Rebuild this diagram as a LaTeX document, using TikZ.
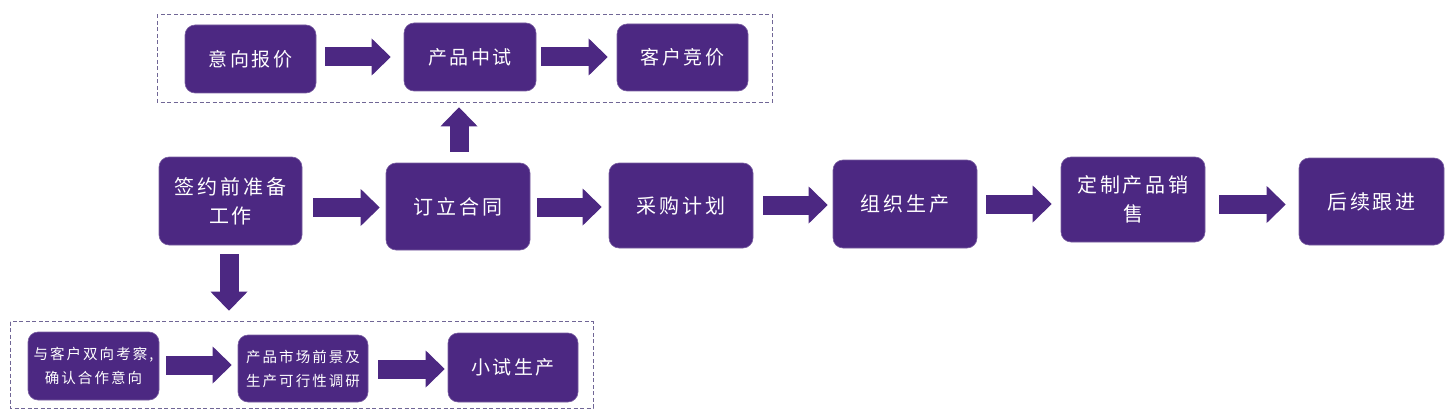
\documentclass[tikz,border=0pt]{standalone}
\usepackage{fontspec}
\setmainfont{Noto Sans CJK SC}
\newfontfamily\cjkfont[LetterSpace=14]{Noto Sans CJK SC}
\usetikzlibrary{arrows.meta}
\definecolor{pp}{RGB}{76,40,130}
\definecolor{dashcol}{RGB}{112,102,150}
\begin{document}
\begin{tikzpicture}[x=1pt,y=-1pt,
  box/.style={fill=pp, draw=pp!75!white, line width=0.6pt, rounded corners=10pt,
    text=white, align=center, inner sep=0pt},
  bigtxt/.style={font=\cjkfont\fontsize{20}{29}\selectfont},
  midtxt/.style={font=\cjkfont\fontsize{19}{24}\selectfont},
  smalltxt/.style={font=\cjkfont\fontsize{14.5}{24}\selectfont},
  blk/.style={draw=pp, line width=19pt,
    -{Triangle[length=19pt,width=37pt,line width=0pt]}},
  group/.style={draw=dashcol, line width=0.8pt, dash pattern=on 4pt off 2.5pt}
]
\useasboundingbox (0,0) rectangle (1455,417);

% dashed groups
\draw[group] (157,14.5) rectangle (772,102);
\draw[group] (10,321.5) rectangle (593,408);

% top row
\node[box, midtxt, minimum width=131, minimum height=68] (t1) at (250.5,59) {意向报价};
\node[box, midtxt, minimum width=132, minimum height=68] (t2) at (470,57) {产品中试};
\node[box, midtxt, minimum width=131, minimum height=67] (t3) at (682.5,57.5) {客户竞价};

% main row
\node[box, bigtxt, minimum width=143, minimum height=88] (pre) at (230.5,201) {签约前准备\\工作};
\node[box, bigtxt, minimum width=144, minimum height=87] (contract) at (458,206.5) {订立合同};
\node[box, bigtxt, minimum width=144, minimum height=85] (purchase) at (681,205.5) {采购计划};
\node[box, bigtxt, minimum width=144, minimum height=88] (organize) at (905,204) {组织生产};
\node[box, bigtxt, minimum width=144, minimum height=85] (custom) at (1133,199.5) {定制产品销\\售};
\node[box, bigtxt, minimum width=145, minimum height=87] (follow) at (1371.5,201.5) {后续跟进};

% bottom row
\node[box, smalltxt, minimum width=131, minimum height=68] (b1) at (93.5,366) {与客户双向考察,\\确认合作意向};
\node[box, smalltxt, minimum width=130, minimum height=67] (b2) at (303,368.5) {产品市场前景及\\生产可行性调研};
\node[box, midtxt, minimum width=130, minimum height=69] (b3) at (513,367.5) {小试生产};

% block arrows
\draw[blk, shorten <=9pt, shorten >=13pt] (t1.east |- 0,57) -- (t2.west |- 0,57);
\draw[blk, shorten <=5pt, shorten >=9pt] (t2.east |- 0,57) -- (t3.west |- 0,57);

\draw[blk, shorten <=11pt, shorten >=6pt] (pre.east |- 0,207.5) -- (contract.west |- 0,207.5);
\draw[blk, shorten <=7pt, shorten >=7pt] (contract.east |- 0,207) -- (purchase.west |- 0,207);
\draw[blk, shorten <=10pt, shorten >=5pt] (purchase.east |- 0,205) -- (organize.west |- 0,205);
\draw[blk, shorten <=9pt, shorten >=9pt] (organize.east |- 0,204) -- (custom.west |- 0,204);
\draw[blk, shorten <=14pt, shorten >=13pt] (custom.east |- 0,204.5) -- (follow.west |- 0,204.5);

\draw[blk, shorten <=11pt, shorten >=16pt] (contract.north -| 459,0) -- (t2.south -| 459,0);
\draw[blk, shorten <=9pt, shorten >=21pt] (pre.south -| 229,0) -- (b1.north -| 229,0);

\draw[blk, shorten <=7pt, shorten >=6pt] (b1.east |- 0,365) -- (b2.west |- 0,365);
\draw[blk, shorten <=10pt, shorten >=3pt] (b2.east |- 0,369) -- (b3.west |- 0,369);
\end{tikzpicture}
\end{document}
